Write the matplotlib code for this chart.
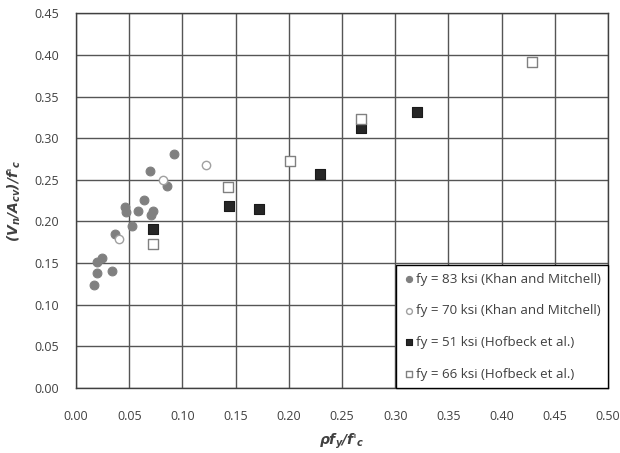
import matplotlib

matplotlib.use("Agg")

import matplotlib.pyplot as plt

plt.rcParams["font.family"] = ["Open Sans", "DejaVu Sans"]
plt.rcParams["mathtext.fontset"] = "dejavusans"

# fy = 83 ksi (Khan and Mitchell)
km83_x = [0.017, 0.020, 0.020, 0.024, 0.034, 0.037, 0.046, 0.047, 0.053,
          0.058, 0.064, 0.070, 0.0705, 0.072, 0.0855, 0.0925]
km83_y = [0.124, 0.138, 0.151, 0.156, 0.141, 0.185, 0.218, 0.211, 0.195,
          0.213, 0.226, 0.261, 0.2075, 0.213, 0.243, 0.281]

# fy = 70 ksi (Khan and Mitchell)
km70_x = [0.040, 0.082, 0.122]
km70_y = [0.179, 0.250, 0.268]

# fy = 51 ksi (Hofbeck et al.)
hb51_x = [0.072, 0.1435, 0.172, 0.229, 0.268, 0.3205]
hb51_y = [0.191, 0.219, 0.2155, 0.257, 0.312, 0.332]

# fy = 66 ksi (Hofbeck et al.)
hb66_x = [0.072, 0.143, 0.2015, 0.268, 0.429]
hb66_y = [0.173, 0.2415, 0.2725, 0.3235, 0.391]

x_ticks = [0.0, 0.05, 0.10, 0.15, 0.20, 0.25, 0.30, 0.35, 0.40, 0.45, 0.50]
y_ticks = [0.0, 0.05, 0.10, 0.15, 0.20, 0.25, 0.30, 0.35, 0.40, 0.45]

TEXT_COLOR = "#404040"
GRID_COLOR = "#555555"

fig = plt.figure(figsize=(6.2, 4.53), dpi=100)
ax = fig.add_axes([0.1226, 0.1435, 0.858, 0.827])

ax.scatter(km83_x, km83_y, s=40, marker="o", facecolor="#808080",
           edgecolor="#808080", linewidth=0.8, zorder=3,
           label="fy = 83 ksi (Khan and Mitchell)")
ax.scatter(km70_x, km70_y, s=36, marker="o", facecolor="white",
           edgecolor="#a0a0a0", linewidth=1.0, zorder=3,
           label="fy = 70 ksi (Khan and Mitchell)")
ax.scatter(hb51_x, hb51_y, s=42, marker="s", facecolor="#262626",
           edgecolor="#1a1a1a", linewidth=0.8, zorder=3,
           label="fy = 51 ksi (Hofbeck et al.)")
ax.scatter(hb66_x, hb66_y, s=42, marker="s", facecolor="white",
           edgecolor="#808080", linewidth=1.0, zorder=3,
           label="fy = 66 ksi (Hofbeck et al.)")

ax.set_xlim(0, 0.5)
ax.set_ylim(0, 0.45)
ax.set_xticks(x_ticks)
ax.set_yticks(y_ticks)
ax.set_xticklabels([f"{v:.2f}" for v in x_ticks])
ax.set_yticklabels([f"{v:.2f}" for v in y_ticks])

ax.tick_params(axis="both", length=0, labelsize=9, colors=TEXT_COLOR)
ax.tick_params(axis="x", pad=16)
ax.tick_params(axis="y", pad=12)

ax.grid(True, color=GRID_COLOR, linewidth=1.0)
ax.set_axisbelow(True)

for spine in ax.spines.values():
    spine.set_color("#404040")
    spine.set_linewidth(1.0)

ax.set_xlabel(r"$\mathbfit{\rho f_y / f}\text{'}_{\mathbfit{c}}$", fontsize=10,
              color=TEXT_COLOR, labelpad=6)
ax.set_ylabel(r"$\mathbfit{(V_n / A_{cv}) / f}\text{'}_{\mathbfit{c}}$", fontsize=10,
              color=TEXT_COLOR, labelpad=8)

leg = ax.legend(loc="lower right", bbox_to_anchor=(1.0, 0.0),
                borderaxespad=0, fontsize=9.6, labelspacing=1.4,
                handletextpad=0.05, handlelength=0.9, markerscale=0.7,
                fancybox=False, framealpha=1, edgecolor="black",
                borderpad=0.55, labelcolor=TEXT_COLOR)
leg.get_frame().set_linewidth(1.0)

fig.savefig("out.png", dpi=100)
